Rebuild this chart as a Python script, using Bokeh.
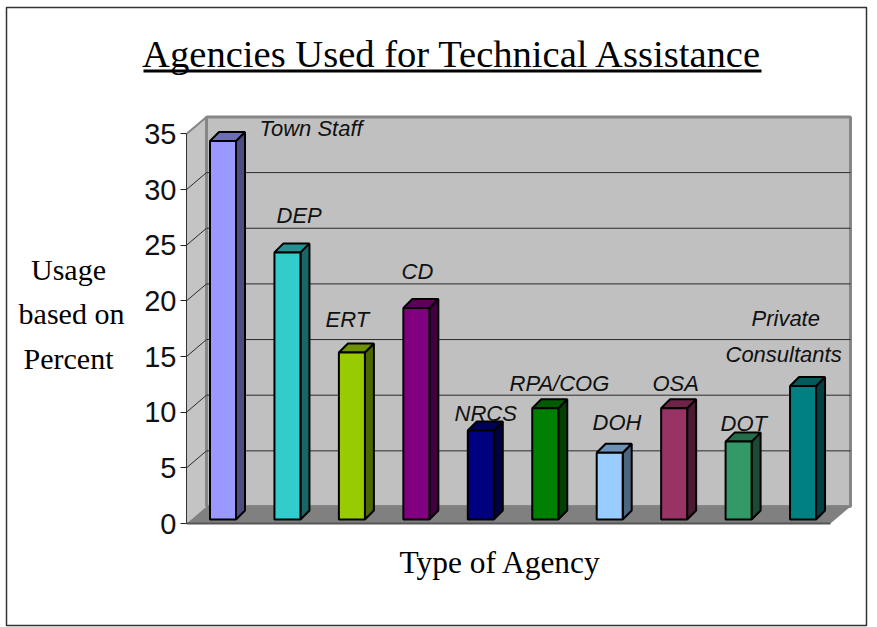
from bokeh.plotting import figure
from bokeh.layouts import column
from bokeh.models import Range1d, FixedTicker
from bokeh.core.properties import value
from bokeh.embed import file_html
from bokeh.resources import INLINE

# ---- data ----
agencies = ["Town Staff", "DEP", "ERT", "CD", "NRCS", "RPA/COG", "DOH", "OSA", "DOT", "Private\nConsultants"]
usage = [34, 24, 15, 19, 8, 10, 6, 10, 7, 12]
colors = ["#9999FF", "#33CCCC", "#99CC00", "#800080", "#000080", "#008000", "#99CCFF", "#993366", "#339966", "#008080"]
y_ticks = [0, 5, 10, 15, 20, 25, 30, 35]
chart_title = "Agencies Used for Technical Assistance"
x_title = "Type of Agency"
y_title = ["Usage", "based on", "Percent"]

# ---- layout (pixels on the page) ----
W, H = 877, 627
FRAME_L, FRAME_B = 186, 523
PX_PER_SLOT, PX_PER_UNIT = 64.45, 11.13
FIRST_BAR_L = 209.5
BAR_W = 26
WALL_DX, WALL_DY = 20, 17
BAR_SHIFT_DY = 4
BAR_DX, BAR_DY = 9, 9
FLOOR_R = 830
label_left = [259, 276, 325, 401, 454, 509, 592, 652, 720, None]
label_mid = [128, 215, 319, 271, 413, 383, 422, 383, 423, None]


def X(px):
    return (px - FIRST_BAR_L) / PX_PER_SLOT


def dX(px):
    return px / PX_PER_SLOT


def Y(py):
    return (FRAME_B - py) / PX_PER_UNIT


def dY(px):
    return px / PX_PER_UNIT


p = figure(width=W, height=H, output_backend="svg", toolbar_location=None,
           x_range=Range1d(X(FRAME_L), X(W)), y_range=Range1d(0, Y(0)),
           min_border_left=FRAME_L, min_border_right=0, min_border_top=0,
           min_border_bottom=H - FRAME_B, background_fill_color="white",
           border_fill_color="white", outline_line_color=None, frame_align=False)
p.margin = (0, 0, 0, 0)
p.grid.visible = False

ax = p.yaxis[0]
ax.ticker = FixedTicker(ticks=y_ticks)
ax.bounds = (0, 35)
ax.major_label_text_font = "Liberation Sans"
ax.major_label_text_font_size = "29px"
ax.major_label_text_color = "#111111"
ax.major_label_standoff = 4
ax.major_tick_in = 0
ax.major_tick_out = 6
ax.minor_tick_line_color = None
ax.axis_line_color = "#333333"
ax.major_tick_line_color = "#222222"

bx = p.xaxis[0]
bx.ticker = FixedTicker(ticks=[])
bx.bounds = (X(FRAME_L), X(FLOOR_R))
bx.major_label_text_font_size = "0px"
bx.major_tick_line_color = None
bx.minor_tick_line_color = None
bx.axis_line_color = "#555555"
bx.axis_line_width = 2

# walls and floor
wx0, wx1 = X(FRAME_L + WALL_DX), X(FLOOR_R + WALL_DX)
wy0, wy1 = dY(WALL_DY), 35 + dY(WALL_DY)
p.quad(left=wx0, right=wx1, bottom=wy0, top=wy1, fill_color="#C0C0C0",
       line_color="#868686", line_width=3)
p.patch([X(FRAME_L), wx0, wx0, X(FRAME_L)], [0, wy0, wy1, 35], fill_color="#C4C4C4",
        line_color=None)
p.line([X(FRAME_L), wx0], [35, wy1], line_color="#868686", line_width=2)
p.line([wx0, wx0], [wy0, wy1], line_color="#868686", line_width=3)
p.patch([X(FRAME_L), wx0, wx1, X(FLOOR_R)], [0, wy0, wy0, 0], fill_color="#808080",
        line_color=None)

# gridlines: across the back wall and diagonally over the side wall
for t in y_ticks[1:-1]:
    p.line([X(FRAME_L), wx0, wx1], [t, t + dY(WALL_DY), t + dY(WALL_DY)],
           line_color="#2a2a2a", line_width=1)


def shade(c, f):
    r, g, b = (int(c[i:i + 2], 16) for i in (1, 3, 5))
    return "#%02x%02x%02x" % (int(r * f), int(g * f), int(b * f))


# bars
base = dY(BAR_SHIFT_DY)
for i, (v, c) in enumerate(zip(usage, colors)):
    l = i
    r = i + dX(BAR_W)
    t = v + base
    dx, dy = dX(BAR_DX), dY(BAR_DY)
    p.patch([r, r + dx, r + dx, r], [base, base + dy, t + dy, t], fill_color=shade(c, .5),
            line_color="black", line_width=2)
    p.patch([l, l + dx, r + dx, r], [t, t + dy, t + dy, t], fill_color=shade(c, .72),
            line_color="black", line_width=2)
    p.quad(left=l, right=r, bottom=base, top=t, fill_color=c, line_color="black", line_width=2)

# bar labels
lx = [X(a) for a in label_left if a is not None]
ly = [Y(b) for b in label_mid if b is not None]
lt = [a for a, b in zip(agencies, label_left) if b is not None]
lx += [X(751), X(725)]
ly += [Y(318), Y(354)]
lt += agencies[-1].split("\n")
p.text(x=lx, y=ly, text=lt, text_font=value("Liberation Sans"), text_font_style="italic",
       text_font_size="22px", text_color="#111111", text_baseline="middle", text_align="left")

# sheet on top: everything that lies outside the plotting frame, in page pixels
sheet = figure(width=W, height=H, output_backend="svg", toolbar_location=None,
               x_range=Range1d(0, W), y_range=Range1d(H, 0), x_axis_location=None, y_axis_location=None,
               min_border=0, background_fill_alpha=0, border_fill_alpha=0, outline_line_color=None,
               frame_align=False)
sheet.margin = (-H, 0, 0, 0)
sheet.grid.visible = False


def serif(txt, cx, cy, size):
    sheet.text(x=[cx], y=[cy], text=[txt], text_font=value("Liberation Serif"), text_font_size=size,
               text_align="center", text_baseline="middle", text_color="black")


serif(chart_title, 452, 53, "38.6px")
serif(x_title, 500, 562, "31.4px")
serif(y_title[0], 68, 269, "30px")
serif(y_title[1], 71, 313, "30px")
serif(y_title[2], 68, 358, "30px")

sheet.quad(left=143, right=761, top=69, bottom=72, fill_color="black", line_color=None)
sheet.quad(left=6, right=866, top=7, bottom=625, fill_alpha=0, line_color="#333333", line_width=1.5)

open("out.html", "w").write(file_html(column(p, sheet, margin=0, spacing=0), INLINE))
